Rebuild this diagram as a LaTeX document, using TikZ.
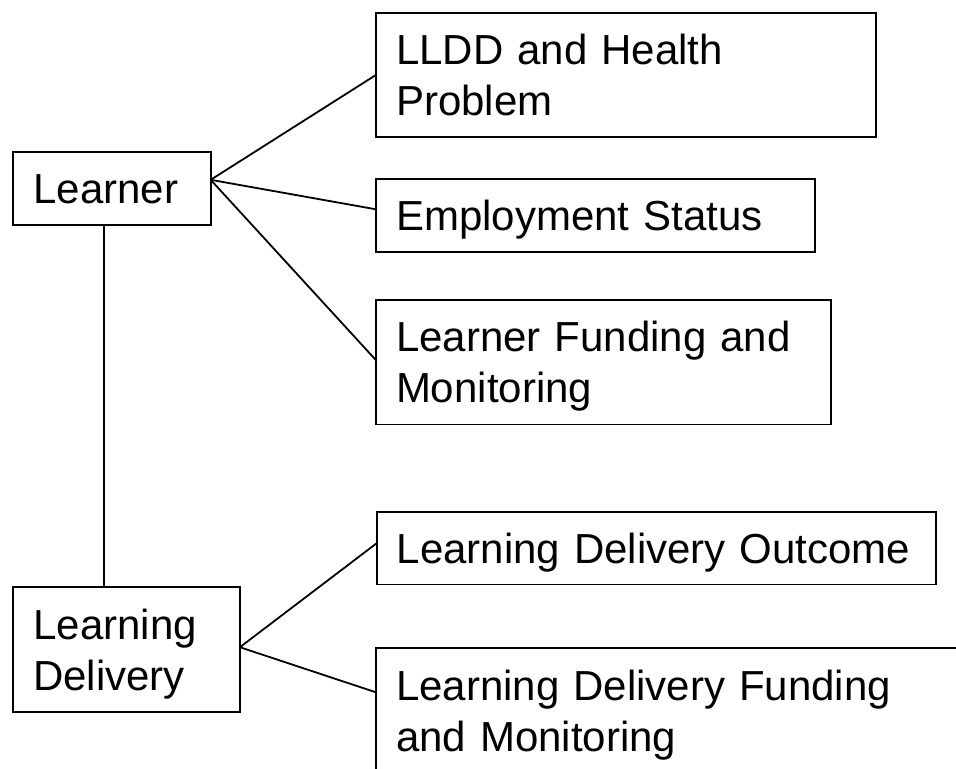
\documentclass[tikz,border=0pt]{standalone}
\usepackage{fontspec}
\setmainfont{Liberation Sans}
\begin{document}
\begin{tikzpicture}[x=0.5pt, y=-0.5pt,
    box/.style={draw, line width=0.9pt, rectangle, anchor=north west, align=left,
        inner xsep=10pt, inner ysep=0pt, outer sep=0pt,
        font=\fontsize{21pt}{25.5pt}\selectfont},
    oneline/.style={text height=15pt, text depth=0pt, minimum height=36.4pt},
    twoline/.style={text height=15pt, text depth=25.5pt, minimum height=62.2pt},
    link/.style={line width=0.9pt}]
        % --- Frame of the page ---
        \useasboundingbox (0,0) rectangle (956,768);
        \clip (0,0) rectangle (956,768);
    
        % --- Left side boxes ---
        \node[box, oneline, minimum width=98.7pt, text width=78.7pt] (learner) at (13.3, 152) {Learner};
        \node[box, twoline, minimum width=113.3pt, text width=93.3pt] (delivery) at (13.3, 587.3) {Learning\\Delivery};
    
        % --- Right side boxes (learner) ---
        \node[box, twoline, minimum width=250pt, text width=230pt] (lldd) at (376, 12.7) {LLDD and Health\\Problem};
        \node[box, oneline, minimum width=219.5pt, text width=199.5pt] (employ) at (376, 179.3) {Employment Status};
        \node[box, twoline, minimum width=227.3pt, text width=207.3pt] (lfund) at (376, 300) {Learner Funding and\\Monitoring};
    
        % --- Right side boxes (learning delivery) ---
        \node[box, oneline, minimum width=279.8pt, text width=259.8pt] (outcome) at (376.7, 511.7) {Learning Delivery Outcome};
        \node[box, twoline, minimum width=302pt, text width=282pt] (ldfund) at (376, 648.3) {Learning Delivery Funding\\and Monitoring};
    
        % --- Connectors ---
        \coordinate (lhub) at ([yshift=4.3pt]learner.east);
        \coordinate (dhub) at ([yshift=1.15pt]delivery.east);
        \draw[link] (lhub) -- (lldd.west);
        \draw[link] (lhub) -- ([yshift=3.2pt]employ.west);
        \draw[link] (lhub) -- ([yshift=1pt]lfund.west);
        \draw[link] ([xshift=-4pt]learner.south) -- ([xshift=-4pt]learner.south |- delivery.north);
        \draw[link] (dhub) -- ([yshift=2.45pt]outcome.west);
        \draw[link] (dhub) -- ([yshift=-22pt]ldfund.north west);
    \end{tikzpicture}
\end{document}
